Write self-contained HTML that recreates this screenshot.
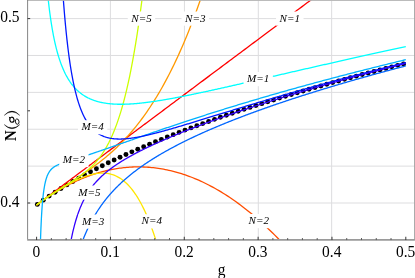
<!DOCTYPE html>
<html><head><meta charset="utf-8"><title>N(g)</title>
<style>
html,body{margin:0;padding:0;background:#fff;}
body{width:415px;height:278px;overflow:hidden;font-family:"Liberation Serif",serif;}
svg{display:block;will-change:transform;}
text{font-family:"Liberation Serif",serif;}
</style></head><body>
<svg width="415" height="278" viewBox="0 0 415 278">
<rect x="0" y="0" width="415" height="278" fill="#fff"/>
<g stroke="#dddddf" stroke-width="1" fill="none">
<line x1="110.40" y1="0.50" x2="110.40" y2="239.65"/>
<line x1="184.45" y1="0.50" x2="184.45" y2="239.65"/>
<line x1="258.30" y1="0.50" x2="258.30" y2="239.65"/>
<line x1="331.65" y1="0.50" x2="331.65" y2="239.65"/>
<line x1="27.60" y1="203.00" x2="414.50" y2="203.00"/>
<line x1="27.60" y1="166.12" x2="414.50" y2="166.12"/>
<line x1="27.60" y1="129.24" x2="414.50" y2="129.24"/>
<line x1="27.60" y1="92.36" x2="414.50" y2="92.36"/>
<line x1="27.60" y1="55.48" x2="414.50" y2="55.48"/>
<line x1="27.60" y1="18.60" x2="414.50" y2="18.60"/>
</g>
<defs><clipPath id="cp"><rect x="27.60" y="0.00" width="386.90" height="239.65"/></clipPath></defs>
<g clip-path="url(#cp)">
<g fill="#000">
<circle cx="37.34" cy="204.40" r="2.45"/>
<circle cx="43.25" cy="200.14" r="2.45"/>
<circle cx="49.15" cy="196.08" r="2.45"/>
<circle cx="55.06" cy="192.21" r="2.45"/>
<circle cx="60.97" cy="188.49" r="2.45"/>
<circle cx="66.87" cy="184.91" r="2.45"/>
<circle cx="72.78" cy="181.46" r="2.45"/>
<circle cx="78.69" cy="178.12" r="2.45"/>
<circle cx="84.60" cy="174.88" r="2.45"/>
<circle cx="90.50" cy="171.73" r="2.45"/>
<circle cx="96.41" cy="168.68" r="2.45"/>
<circle cx="102.32" cy="165.70" r="2.45"/>
<circle cx="108.22" cy="162.79" r="2.45"/>
<circle cx="114.13" cy="159.96" r="2.45"/>
<circle cx="120.04" cy="157.19" r="2.45"/>
<circle cx="125.95" cy="154.48" r="2.45"/>
<circle cx="131.85" cy="151.83" r="2.45"/>
<circle cx="137.76" cy="149.24" r="2.45"/>
<circle cx="143.67" cy="146.69" r="2.45"/>
<circle cx="149.58" cy="144.20" r="2.45"/>
<circle cx="155.48" cy="141.75" r="2.45"/>
<circle cx="161.39" cy="139.34" r="2.45"/>
<circle cx="167.30" cy="136.98" r="2.45"/>
<circle cx="173.20" cy="134.66" r="2.45"/>
<circle cx="179.11" cy="132.37" r="2.45"/>
<circle cx="185.02" cy="130.12" r="2.45"/>
<circle cx="190.93" cy="127.91" r="2.45"/>
<circle cx="196.83" cy="125.73" r="2.45"/>
<circle cx="202.74" cy="123.58" r="2.45"/>
<circle cx="208.65" cy="121.46" r="2.45"/>
<circle cx="214.55" cy="119.37" r="2.45"/>
<circle cx="220.46" cy="117.32" r="2.45"/>
<circle cx="226.37" cy="115.29" r="2.45"/>
<circle cx="232.28" cy="113.28" r="2.45"/>
<circle cx="238.18" cy="111.30" r="2.45"/>
<circle cx="244.09" cy="109.35" r="2.45"/>
<circle cx="250.00" cy="107.42" r="2.45"/>
<circle cx="255.90" cy="105.52" r="2.45"/>
<circle cx="261.81" cy="103.64" r="2.45"/>
<circle cx="267.72" cy="101.78" r="2.45"/>
<circle cx="273.63" cy="99.94" r="2.45"/>
<circle cx="279.53" cy="98.12" r="2.45"/>
<circle cx="285.44" cy="96.32" r="2.45"/>
<circle cx="291.35" cy="94.54" r="2.45"/>
<circle cx="297.26" cy="92.78" r="2.45"/>
<circle cx="303.16" cy="91.04" r="2.45"/>
<circle cx="309.07" cy="89.32" r="2.45"/>
<circle cx="314.98" cy="87.62" r="2.45"/>
<circle cx="320.88" cy="85.93" r="2.45"/>
<circle cx="326.79" cy="84.26" r="2.45"/>
<circle cx="332.70" cy="82.60" r="2.45"/>
<circle cx="338.61" cy="80.96" r="2.45"/>
<circle cx="344.51" cy="79.34" r="2.45"/>
<circle cx="350.42" cy="77.73" r="2.45"/>
<circle cx="356.33" cy="76.14" r="2.45"/>
<circle cx="362.23" cy="74.56" r="2.45"/>
<circle cx="368.14" cy="72.99" r="2.45"/>
<circle cx="374.05" cy="71.44" r="2.45"/>
<circle cx="379.96" cy="69.90" r="2.45"/>
<circle cx="385.86" cy="68.38" r="2.45"/>
<circle cx="391.77" cy="66.87" r="2.45"/>
<circle cx="397.68" cy="65.37" r="2.45"/>
<circle cx="403.58" cy="63.88" r="2.45"/>
</g>
<g fill="none" stroke-width="1.30" stroke-linejoin="round">
<path stroke="#ff0000" d="M36.60 204.95 L36.61 204.95 L36.62 204.93 L36.65 204.91 L36.70 204.88 L36.75 204.84 L36.81 204.79 L36.89 204.73 L36.98 204.67 L37.08 204.59 L37.20 204.51 L37.32 204.41 L37.46 204.31 L37.61 204.20 L37.77 204.08 L37.94 203.95 L38.12 203.81 L38.32 203.66 L38.53 203.51 L38.75 203.34 L38.98 203.17 L39.23 202.99 L39.48 202.80 L39.75 202.60 L40.03 202.39 L40.32 202.17 L40.63 201.94 L40.94 201.71 L41.27 201.46 L41.61 201.21 L41.96 200.95 L42.32 200.67 L42.70 200.39 L43.08 200.11 L43.48 199.81 L43.89 199.50 L44.32 199.18 L44.75 198.86 L45.20 198.53 L45.66 198.18 L46.13 197.83 L46.61 197.47 L47.10 197.10 L47.61 196.72 L48.13 196.34 L48.66 195.94 L49.20 195.54 L49.75 195.12 L50.32 194.70 L50.90 194.27 L51.49 193.83 L52.09 193.38 L52.70 192.92 L53.33 192.45 L53.96 191.98 L54.61 191.49 L55.27 191.00 L55.95 190.49 L56.63 189.98 L57.33 189.46 L58.04 188.93 L58.76 188.39 L59.49 187.85 L60.23 187.29 L60.99 186.73 L61.76 186.15 L62.54 185.57 L63.33 184.98 L64.13 184.38 L64.95 183.77 L65.78 183.15 L66.62 182.52 L67.47 181.88 L68.33 181.24 L69.21 180.59 L70.10 179.92 L70.99 179.25 L71.91 178.57 L72.83 177.88 L73.76 177.18 L74.71 176.47 L75.67 175.76 L76.64 175.03 L77.62 174.30 L78.62 173.56 L79.62 172.80 L80.64 172.04 L81.67 171.27 L82.71 170.49 L83.77 169.71 L84.83 168.91 L85.91 168.10 L87.00 167.29 L88.10 166.47 L89.22 165.64 L90.34 164.79 L91.48 163.94 L92.63 163.09 L93.79 162.22 L94.96 161.34 L96.15 160.46 L97.34 159.56 L98.55 158.66 L99.77 157.75 L101.01 156.83 L102.25 155.90 L103.51 154.96 L104.78 154.01 L106.06 153.05 L107.35 152.09 L108.65 151.11 L109.97 150.13 L111.30 149.14 L112.64 148.14 L113.99 147.13 L115.35 146.11 L116.73 145.08 L118.11 144.04 L119.51 143.00 L120.93 141.94 L122.35 140.88 L123.78 139.81 L125.23 138.73 L126.69 137.64 L128.16 136.54 L129.64 135.43 L131.14 134.31 L132.64 133.19 L134.16 132.05 L135.69 130.91 L137.24 129.76 L138.79 128.59 L140.36 127.42 L141.93 126.24 L143.52 125.06 L145.13 123.86 L146.74 122.65 L148.36 121.44 L150.00 120.22 L151.65 118.98 L153.31 117.74 L154.99 116.49 L156.67 115.23 L158.37 113.96 L160.08 112.69 L161.80 111.40 L163.53 110.11 L165.28 108.80 L167.03 107.49 L168.80 106.17 L170.58 104.84 L172.37 103.50 L174.18 102.15 L175.99 100.79 L177.82 99.43 L179.66 98.05 L181.51 96.67 L183.38 95.28 L185.25 93.88 L187.14 92.46 L189.04 91.05 L190.95 89.62 L192.88 88.18 L194.81 86.73 L196.76 85.28 L198.72 83.81 L200.69 82.34 L202.67 80.86 L204.67 79.37 L206.67 77.87 L208.69 76.36 L210.72 74.84 L212.77 73.32 L214.82 71.78 L216.89 70.24 L218.96 68.69 L221.05 67.13 L223.16 65.55 L225.27 63.97 L227.40 62.39 L229.53 60.79 L231.68 59.18 L233.84 57.57 L236.02 55.94 L238.20 54.31 L240.40 52.67 L242.61 51.02 L244.83 49.36 L247.06 47.69 L249.31 46.01 L251.57 44.33 L253.83 42.63 L256.12 40.93 L258.41 39.21 L260.71 37.49 L263.03 35.76 L265.36 34.02 L267.70 32.27 L270.05 30.52 L272.41 28.75 L274.79 26.97 L277.18 25.19 L279.58 23.40 L281.99 21.59 L284.41 19.78 L286.85 17.96 L289.30 16.13 L291.75 14.30 L294.23 12.45 L296.71 10.60 L299.20 8.73 L301.71 6.86 L304.23 4.98 L306.76 3.08 L309.30 1.18 L311.86 -0.72 L314.42 -2.64 L317.00 -4.57 L319.59 -6.50 L322.20 -8.45 L324.81 -10.40 L327.44 -12.36 L330.07 -14.33 L332.72 -16.31 L335.39 -18.30 L338.06 -20.30 L340.74 -22.31 L343.44 -24.32 L346.15 -26.35 L348.87 -28.38 L351.61 -30.42 L354.35 -32.48 L357.11 -34.54 L359.88 -36.60 L362.66 -38.68"/>
<path stroke="#ff4d00" d="M36.60 204.95 L36.61 204.95 L36.62 204.93 L36.65 204.91 L36.70 204.88 L36.75 204.84 L36.81 204.79 L36.89 204.73 L36.98 204.67 L37.08 204.59 L37.20 204.51 L37.32 204.41 L37.46 204.31 L37.61 204.20 L37.77 204.08 L37.94 203.96 L38.12 203.82 L38.32 203.68 L38.53 203.52 L38.75 203.36 L38.98 203.19 L39.23 203.01 L39.48 202.83 L39.75 202.63 L40.03 202.43 L40.32 202.22 L40.63 202.00 L40.94 201.78 L41.27 201.54 L41.61 201.30 L41.96 201.05 L42.32 200.79 L42.70 200.53 L43.08 200.26 L43.48 199.98 L43.89 199.70 L44.32 199.40 L44.75 199.10 L45.20 198.80 L45.66 198.48 L46.13 198.16 L46.61 197.84 L47.10 197.51 L47.61 197.17 L48.13 196.82 L48.66 196.47 L49.20 196.12 L49.75 195.76 L50.32 195.39 L50.90 195.02 L51.49 194.64 L52.09 194.26 L52.70 193.87 L53.33 193.48 L53.96 193.08 L54.61 192.68 L55.27 192.28 L55.95 191.87 L56.63 191.45 L57.33 191.04 L58.04 190.62 L58.76 190.20 L59.49 189.77 L60.23 189.34 L60.99 188.91 L61.76 188.47 L62.54 188.04 L63.33 187.60 L64.13 187.16 L64.95 186.72 L65.78 186.27 L66.62 185.83 L67.47 185.38 L68.33 184.93 L69.21 184.49 L70.10 184.04 L70.99 183.59 L71.91 183.14 L72.83 182.69 L73.76 182.25 L74.71 181.80 L75.67 181.36 L76.64 180.91 L77.62 180.47 L78.62 180.03 L79.62 179.59 L80.64 179.16 L81.67 178.72 L82.71 178.29 L83.77 177.87 L84.83 177.44 L85.91 177.02 L87.00 176.61 L88.10 176.20 L89.22 175.79 L90.34 175.39 L91.48 174.99 L92.63 174.60 L93.79 174.22 L94.96 173.84 L96.15 173.46 L97.34 173.10 L98.55 172.74 L99.77 172.39 L101.01 172.04 L102.25 171.71 L103.51 171.38 L104.78 171.06 L106.06 170.75 L107.35 170.45 L108.65 170.16 L109.97 169.87 L111.30 169.60 L112.64 169.34 L113.99 169.09 L115.35 168.86 L116.73 168.63 L118.11 168.42 L119.51 168.21 L120.93 168.03 L122.35 167.85 L123.78 167.69 L125.23 167.54 L126.69 167.41 L128.16 167.29 L129.64 167.18 L131.14 167.10 L132.64 167.02 L134.16 166.97 L135.69 166.93 L137.24 166.90 L138.79 166.90 L140.36 166.91 L141.93 166.94 L143.52 166.99 L145.13 167.06 L146.74 167.15 L148.36 167.26 L150.00 167.39 L151.65 167.54 L153.31 167.71 L154.99 167.90 L156.67 168.12 L158.37 168.36 L160.08 168.62 L161.80 168.90 L163.53 169.21 L165.28 169.54 L167.03 169.90 L168.80 170.28 L170.58 170.69 L172.37 171.12 L174.18 171.58 L175.99 172.07 L177.82 172.59 L179.66 173.13 L181.51 173.70 L183.38 174.30 L185.25 174.94 L187.14 175.60 L189.04 176.29 L190.95 177.01 L192.88 177.77 L194.81 178.55 L196.76 179.37 L198.72 180.22 L200.69 181.11 L202.67 182.03 L204.67 182.98 L206.67 183.97 L208.69 185.00 L210.72 186.06 L212.77 187.16 L214.82 188.29 L216.89 189.47 L218.96 190.68 L221.05 191.93 L223.16 193.22 L225.27 194.55 L227.40 195.92 L229.53 197.33 L231.68 198.79 L233.84 200.28 L236.02 201.82 L238.20 203.40 L240.40 205.03 L242.61 206.70 L244.83 208.41 L247.06 210.18 L249.31 211.98 L251.57 213.84 L253.83 215.74 L256.12 217.69 L258.41 219.69 L260.71 221.73 L263.03 223.83 L265.36 225.98 L267.70 228.18 L270.05 230.43 L272.41 232.73 L274.79 235.09 L277.18 237.50 L279.58 239.96 L281.99 242.48 L284.41 245.05 L286.85 247.68 L289.30 250.37 L291.75 253.11 L294.23 255.92 L296.71 258.78 L299.20 261.70 L301.71 264.68 L304.23 267.72 L306.76 270.82 L309.30 273.98 L311.86 277.21 L314.42 280.50 L317.00 283.85 L319.59 287.27 L322.20 290.75 L324.81 294.30 L327.44 297.91 L330.07 301.60 L332.72 305.35 L335.39 309.17 L338.06 313.06 L340.74 317.02"/>
<path stroke="#ff9900" d="M36.60 204.95 L36.61 204.95 L36.62 204.93 L36.65 204.91 L36.70 204.88 L36.75 204.84 L36.81 204.79 L36.89 204.73 L36.98 204.67 L37.08 204.59 L37.20 204.51 L37.32 204.41 L37.46 204.31 L37.61 204.20 L37.77 204.08 L37.94 203.96 L38.12 203.82 L38.32 203.68 L38.53 203.52 L38.75 203.36 L38.98 203.19 L39.23 203.01 L39.48 202.83 L39.75 202.63 L40.03 202.43 L40.32 202.22 L40.63 202.00 L40.94 201.77 L41.27 201.54 L41.61 201.30 L41.96 201.04 L42.32 200.79 L42.70 200.52 L43.08 200.25 L43.48 199.97 L43.89 199.68 L44.32 199.38 L44.75 199.08 L45.20 198.77 L45.66 198.45 L46.13 198.13 L46.61 197.80 L47.10 197.46 L47.61 197.11 L48.13 196.76 L48.66 196.40 L49.20 196.04 L49.75 195.66 L50.32 195.28 L50.90 194.90 L51.49 194.50 L52.09 194.10 L52.70 193.70 L53.33 193.29 L53.96 192.87 L54.61 192.44 L55.27 192.01 L55.95 191.57 L56.63 191.12 L57.33 190.67 L58.04 190.21 L58.76 189.75 L59.49 189.27 L60.23 188.80 L60.99 188.31 L61.76 187.82 L62.54 187.32 L63.33 186.81 L64.13 186.30 L64.95 185.78 L65.78 185.25 L66.62 184.71 L67.47 184.17 L68.33 183.62 L69.21 183.06 L70.10 182.49 L70.99 181.91 L71.91 181.33 L72.83 180.73 L73.76 180.13 L74.71 179.52 L75.67 178.90 L76.64 178.27 L77.62 177.62 L78.62 176.97 L79.62 176.31 L80.64 175.63 L81.67 174.95 L82.71 174.25 L83.77 173.54 L84.83 172.82 L85.91 172.08 L87.00 171.33 L88.10 170.56 L89.22 169.78 L90.34 168.99 L91.48 168.18 L92.63 167.35 L93.79 166.50 L94.96 165.64 L96.15 164.76 L97.34 163.85 L98.55 162.93 L99.77 161.99 L101.01 161.02 L102.25 160.04 L103.51 159.03 L104.78 157.99 L106.06 156.93 L107.35 155.84 L108.65 154.73 L109.97 153.59 L111.30 152.42 L112.64 151.21 L113.99 149.98 L115.35 148.71 L116.73 147.41 L118.11 146.08 L119.51 144.71 L120.93 143.30 L122.35 141.85 L123.78 140.36 L125.23 138.83 L126.69 137.25 L128.16 135.63 L129.64 133.97 L131.14 132.25 L132.64 130.49 L134.16 128.67 L135.69 126.80 L137.24 124.87 L138.79 122.89 L140.36 120.85 L141.93 118.75 L143.52 116.58 L145.13 114.35 L146.74 112.05 L148.36 109.68 L150.00 107.24 L151.65 104.73 L153.31 102.14 L154.99 99.47 L156.67 96.73 L158.37 93.89 L160.08 90.97 L161.80 87.97 L163.53 84.87 L165.28 81.67 L167.03 78.38 L168.80 74.99 L170.58 71.50 L172.37 67.90 L174.18 64.19 L175.99 60.37 L177.82 56.43 L179.66 52.37 L181.51 48.20 L183.38 43.89 L185.25 39.46 L187.14 34.89 L189.04 30.19 L190.95 25.35 L192.88 20.36 L194.81 15.23 L196.76 9.94 L198.72 4.50 L200.69 -1.10 L202.67 -6.87 L204.67 -12.80 L206.67 -18.91 L208.69 -25.19 L210.72 -31.66 L212.77 -38.31"/>
<path stroke="#ffe600" d="M36.60 204.95 L36.61 204.95 L36.62 204.93 L36.65 204.91 L36.70 204.88 L36.75 204.84 L36.81 204.79 L36.89 204.73 L36.98 204.67 L37.08 204.59 L37.20 204.51 L37.32 204.41 L37.46 204.31 L37.61 204.20 L37.77 204.08 L37.94 203.96 L38.12 203.82 L38.32 203.68 L38.53 203.52 L38.75 203.36 L38.98 203.19 L39.23 203.01 L39.48 202.83 L39.75 202.63 L40.03 202.43 L40.32 202.22 L40.63 202.00 L40.94 201.77 L41.27 201.54 L41.61 201.30 L41.96 201.05 L42.32 200.79 L42.70 200.52 L43.08 200.25 L43.48 199.97 L43.89 199.68 L44.32 199.39 L44.75 199.08 L45.20 198.77 L45.66 198.46 L46.13 198.13 L46.61 197.80 L47.10 197.47 L47.61 197.12 L48.13 196.77 L48.66 196.42 L49.20 196.05 L49.75 195.68 L50.32 195.31 L50.90 194.93 L51.49 194.54 L52.09 194.14 L52.70 193.75 L53.33 193.34 L53.96 192.93 L54.61 192.51 L55.27 192.09 L55.95 191.67 L56.63 191.24 L57.33 190.80 L58.04 190.36 L58.76 189.92 L59.49 189.47 L60.23 189.01 L60.99 188.56 L61.76 188.10 L62.54 187.63 L63.33 187.17 L64.13 186.70 L64.95 186.23 L65.78 185.76 L66.62 185.28 L67.47 184.80 L68.33 184.33 L69.21 183.85 L70.10 183.37 L70.99 182.89 L71.91 182.42 L72.83 181.94 L73.76 181.47 L74.71 181.00 L75.67 180.53 L76.64 180.07 L77.62 179.61 L78.62 179.16 L79.62 178.71 L80.64 178.28 L81.67 177.85 L82.71 177.43 L83.77 177.02 L84.83 176.62 L85.91 176.23 L87.00 175.86 L88.10 175.50 L89.22 175.17 L90.34 174.85 L91.48 174.55 L92.63 174.27 L93.79 174.01 L94.96 173.78 L96.15 173.58 L97.34 173.41 L98.55 173.28 L99.77 173.17 L101.01 173.11 L102.25 173.08 L103.51 173.10 L104.78 173.16 L106.06 173.27 L107.35 173.44 L108.65 173.66 L109.97 173.93 L111.30 174.28 L112.64 174.69 L113.99 175.17 L115.35 175.72 L116.73 176.36 L118.11 177.08 L119.51 177.89 L120.93 178.80 L122.35 179.81 L123.78 180.93 L125.23 182.16 L126.69 183.51 L128.16 184.98 L129.64 186.59 L131.14 188.34 L132.64 190.24 L134.16 192.29 L135.69 194.51 L137.24 196.89 L138.79 199.47 L140.36 202.23 L141.93 205.19 L143.52 208.36 L145.13 211.76 L146.74 215.38 L148.36 219.25 L150.00 223.38 L151.65 227.77 L153.31 232.44 L154.99 237.41 L156.67 242.68 L158.37 248.28 L160.08 254.21 L161.80 260.50 L163.53 267.15 L165.28 274.18 L167.03 281.62 L168.80 289.48 L170.58 297.78 L172.37 306.53 L174.18 315.76"/>
<path stroke="#ccff00" d="M36.60 204.95 L36.61 204.95 L36.62 204.93 L36.65 204.91 L36.70 204.88 L36.75 204.84 L36.81 204.79 L36.89 204.73 L36.98 204.67 L37.08 204.59 L37.20 204.51 L37.32 204.41 L37.46 204.31 L37.61 204.20 L37.77 204.08 L37.94 203.96 L38.12 203.82 L38.32 203.68 L38.53 203.52 L38.75 203.36 L38.98 203.19 L39.23 203.01 L39.48 202.83 L39.75 202.63 L40.03 202.43 L40.32 202.22 L40.63 202.00 L40.94 201.77 L41.27 201.54 L41.61 201.30 L41.96 201.05 L42.32 200.79 L42.70 200.52 L43.08 200.25 L43.48 199.97 L43.89 199.68 L44.32 199.39 L44.75 199.08 L45.20 198.77 L45.66 198.46 L46.13 198.13 L46.61 197.80 L47.10 197.47 L47.61 197.12 L48.13 196.77 L48.66 196.41 L49.20 196.05 L49.75 195.68 L50.32 195.30 L50.90 194.92 L51.49 194.53 L52.09 194.13 L52.70 193.73 L53.33 193.32 L53.96 192.90 L54.61 192.48 L55.27 192.06 L55.95 191.62 L56.63 191.19 L57.33 190.74 L58.04 190.29 L58.76 189.83 L59.49 189.37 L60.23 188.90 L60.99 188.42 L61.76 187.94 L62.54 187.45 L63.33 186.95 L64.13 186.45 L64.95 185.94 L65.78 185.42 L66.62 184.90 L67.47 184.36 L68.33 183.82 L69.21 183.27 L70.10 182.71 L70.99 182.13 L71.91 181.55 L72.83 180.96 L73.76 180.35 L74.71 179.73 L75.67 179.09 L76.64 178.44 L77.62 177.78 L78.62 177.09 L79.62 176.38 L80.64 175.66 L81.67 174.90 L82.71 174.13 L83.77 173.32 L84.83 172.49 L85.91 171.62 L87.00 170.72 L88.10 169.77 L89.22 168.79 L90.34 167.75 L91.48 166.67 L92.63 165.53 L93.79 164.34 L94.96 163.07 L96.15 161.74 L97.34 160.33 L98.55 158.84 L99.77 157.26 L101.01 155.57 L102.25 153.79 L103.51 151.89 L104.78 149.86 L106.06 147.70 L107.35 145.40 L108.65 142.94 L109.97 140.30 L111.30 137.49 L112.64 134.48 L113.99 131.26 L115.35 127.81 L116.73 124.11 L118.11 120.15 L119.51 115.91 L120.93 111.36 L122.35 106.48 L123.78 101.25 L125.23 95.64 L126.69 89.63 L128.16 83.19 L129.64 76.29 L131.14 68.89 L132.64 60.96 L134.16 52.46 L135.69 43.36 L137.24 33.62 L138.79 23.18 L140.36 12.02 L141.93 0.07 L143.52 -12.71 L145.13 -26.38"/>
<path stroke="#00ffff" d="M45.05 -37.99 L45.23 -35.30 L45.41 -32.67 L45.60 -30.09 L45.78 -27.57 L45.97 -25.09 L46.16 -22.67 L46.36 -20.29 L46.55 -17.96 L46.75 -15.68 L46.95 -13.44 L47.15 -11.25 L47.35 -9.09 L47.56 -6.98 L47.76 -4.91 L47.97 -2.88 L48.18 -0.89 L48.40 1.06 L48.61 2.98 L48.83 4.86 L49.04 6.71 L49.26 8.52 L49.49 10.30 L49.71 12.05 L49.94 13.76 L50.16 15.45 L50.39 17.10 L50.63 18.72 L50.86 20.32 L51.09 21.88 L51.33 23.42 L51.57 24.93 L51.81 26.41 L52.06 27.87 L52.30 29.30 L52.55 30.71 L52.80 32.09 L53.05 33.45 L53.30 34.78 L53.56 36.09 L53.81 37.38 L54.07 38.65 L54.33 39.89 L54.59 41.11 L54.86 42.32 L55.13 43.50 L55.39 44.66 L55.66 45.80 L55.94 46.92 L56.21 48.03 L56.49 49.11 L56.76 50.18 L57.04 51.22 L57.33 52.26 L57.61 53.27 L57.90 54.26 L58.18 55.24 L58.47 56.21 L58.77 57.15 L59.06 58.09 L59.35 59.00 L59.65 59.90 L59.95 60.79 L60.25 61.66 L60.55 62.51 L60.86 63.36 L61.17 64.18 L61.48 65.00 L61.79 65.80 L62.10 66.59 L62.41 67.36 L62.73 68.12 L63.05 68.87 L63.37 69.61 L63.69 70.33 L64.02 71.04 L64.34 71.74 L64.67 72.43 L65.00 73.11 L65.33 73.78 L65.67 74.43 L66.00 75.08 L66.34 75.71 L66.68 76.33 L67.02 76.94 L67.37 77.55 L67.71 78.14 L68.06 78.72 L68.41 79.29 L68.76 79.85 L69.11 80.41 L69.47 80.95 L69.83 81.48 L70.18 82.01 L70.55 82.52 L70.91 83.03 L71.27 83.53 L71.64 84.02 L72.01 84.50 L72.38 84.98 L72.75 85.44 L73.13 85.90 L73.50 86.35 L73.88 86.79 L74.26 87.22 L74.64 87.65 L75.03 88.07 L75.41 88.48 L75.80 88.88 L76.19 89.28 L76.58 89.67 L76.98 90.05 L77.37 90.42 L77.77 90.79 L78.17 91.15 L78.57 91.51 L78.98 91.86 L79.38 92.20 L79.79 92.53 L80.20 92.86 L80.61 93.19 L81.02 93.50 L81.44 93.81 L81.85 94.12 L82.27 94.42 L82.69 94.71 L83.12 95.00 L83.54 95.28 L83.97 95.55 L84.40 95.83 L84.83 96.09 L85.26 96.35 L85.69 96.60 L86.13 96.85 L86.57 97.10 L87.01 97.34 L87.45 97.57 L87.89 97.80 L88.34 98.02 L88.79 98.24 L89.24 98.45 L89.69 98.66 L90.14 98.87 L90.60 99.07 L91.06 99.26 L91.52 99.45 L91.98 99.64 L92.44 99.82 L92.91 100.00 L93.37 100.17 L93.84 100.34 L94.31 100.51 L94.79 100.67 L95.26 100.82 L95.74 100.97 L96.22 101.12 L96.70 101.27 L97.18 101.41 L97.66 101.54 L98.15 101.68 L98.64 101.80 L99.13 101.93 L99.62 102.05 L100.12 102.17 L100.61 102.28 L101.11 102.39 L101.61 102.50 L102.11 102.60 L102.61 102.70 L103.12 102.80 L103.63 102.89 L104.14 102.98 L104.65 103.07 L105.16 103.15 L105.68 103.23 L106.20 103.31 L106.71 103.38 L107.24 103.45 L107.76 103.52 L108.28 103.58 L108.81 103.64 L109.34 103.70 L109.87 103.75 L110.40 103.81 L110.94 103.86 L111.47 103.90 L112.01 103.94 L112.55 103.99 L113.10 104.02 L113.64 104.06 L114.19 104.09 L114.74 104.12 L115.29 104.15 L115.84 104.17 L116.39 104.19 L116.95 104.21 L117.51 104.23 L118.06 104.24 L118.63 104.25 L119.19 104.26 L119.76 104.27 L120.32 104.27 L120.89 104.27 L121.46 104.27 L122.04 104.27 L122.61 104.26 L123.19 104.25 L123.77 104.24 L124.35 104.23 L124.93 104.22 L125.52 104.20 L126.10 104.18 L126.69 104.16 L127.28 104.14 L127.88 104.11 L128.47 104.08 L129.07 104.05 L129.67 104.02 L130.27 103.99 L130.87 103.95 L131.47 103.91 L132.08 103.87 L132.69 103.83 L133.30 103.79 L133.91 103.74 L134.52 103.69 L135.14 103.64 L135.76 103.59 L136.38 103.54 L137.00 103.48 L137.62 103.42 L138.25 103.36 L138.87 103.30 L139.50 103.24 L140.13 103.18 L140.77 103.11 L141.40 103.04 L142.04 102.97 L142.68 102.90 L143.32 102.83 L143.96 102.75 L144.61 102.68 L145.25 102.60 L145.90 102.52 L146.55 102.44 L147.20 102.35 L147.86 102.27 L148.51 102.18 L149.17 102.10 L149.83 102.01 L150.49 101.92 L151.16 101.82 L151.82 101.73 L152.49 101.63 L153.16 101.54 L153.83 101.44 L154.51 101.34 L155.18 101.24 L155.86 101.14 L156.54 101.03 L157.22 100.93 L157.90 100.82 L158.59 100.71 L159.28 100.60 L159.97 100.49 L160.66 100.38 L161.35 100.27 L162.05 100.15 L162.74 100.04 L163.44 99.92 L164.14 99.80 L164.84 99.68 L165.55 99.56 L166.25 99.44 L166.96 99.32 L167.67 99.19 L168.39 99.06 L169.10 98.94 L169.82 98.81 L170.53 98.68 L171.25 98.55 L171.98 98.42 L172.70 98.28 L173.43 98.15 L174.15 98.02 L174.88 97.88 L175.61 97.74 L176.35 97.60 L177.08 97.46 L177.82 97.32 L178.56 97.18 L179.30 97.04 L180.04 96.89 L180.79 96.75 L181.54 96.60 L182.28 96.46 L183.04 96.31 L183.79 96.16 L184.54 96.01 L185.30 95.86 L186.06 95.71 L186.82 95.55 L187.58 95.40 L188.35 95.25 L189.11 95.09 L189.88 94.93 L190.65 94.77 L191.42 94.62 L192.20 94.46 L192.97 94.30 L193.75 94.13 L194.53 93.97 L195.31 93.81 L196.10 93.65 L196.88 93.48 L197.67 93.31 L198.46 93.15 L199.25 92.98 L200.04 92.81 L200.84 92.64 L201.63 92.47 L202.43 92.30 L203.23 92.13 L204.04 91.96 L204.84 91.78 L205.65 91.61 L206.46 91.44 L207.27 91.26 L208.08 91.08 L208.90 90.91 L209.71 90.73 L210.53 90.55 L211.35 90.37 L212.17 90.19 L213.00 90.01 L213.82 89.83 L214.65 89.64 L215.48 89.46 L216.31 89.28 L217.15 89.09 L217.98 88.91 L218.82 88.72 L219.66 88.53 L220.50 88.35 L221.35 88.16 L222.19 87.97 L223.04 87.78 L223.89 87.59 L224.74 87.40 L225.59 87.21 L226.45 87.02 L227.30 86.82 L228.16 86.63 L229.02 86.43 L229.89 86.24 L230.75 86.04 L231.62 85.85 L232.49 85.65 L233.36 85.45 L234.23 85.26 L235.10 85.06 L235.98 84.86 L236.86 84.66 L237.74 84.46 L238.62 84.26 L239.50 84.06 L240.39 83.86 L241.28 83.65 L242.17 83.45 L243.06 83.25 L243.95 83.04 L244.85 82.84 L245.75 82.63 L246.65 82.43 L247.55 82.22 L248.45 82.01 L249.36 81.80 L250.26 81.60 L251.17 81.39 L252.08 81.18 L253.00 80.97 L253.91 80.76 L254.83 80.55 L255.75 80.34 L256.67 80.13 L257.59 79.91 L258.51 79.70 L259.44 79.49 L260.37 79.27 L261.30 79.06 L262.23 78.84 L263.17 78.63 L264.10 78.41 L265.04 78.20 L265.98 77.98 L266.92 77.76 L267.87 77.55 L268.81 77.33 L269.76 77.11 L270.71 76.89 L271.66 76.67 L272.61 76.45 L273.57 76.23 L274.53 76.01 L275.49 75.79 L276.45 75.57 L277.41 75.35 L278.37 75.13 L279.34 74.90 L280.31 74.68 L281.28 74.46 L282.25 74.23 L283.23 74.01 L284.21 73.78 L285.18 73.56 L286.16 73.33 L287.15 73.11 L288.13 72.88 L289.12 72.65 L290.11 72.43 L291.10 72.20 L292.09 71.97 L293.08 71.74 L294.08 71.51 L295.08 71.29 L296.08 71.06 L297.08 70.83 L298.08 70.60 L299.09 70.37 L300.09 70.14 L301.10 69.90 L302.11 69.67 L303.13 69.44 L304.14 69.21 L305.16 68.98 L306.18 68.74 L307.20 68.51 L308.22 68.28 L309.25 68.04 L310.28 67.81 L311.30 67.57 L312.33 67.34 L313.37 67.10 L314.40 66.87 L315.44 66.63 L316.48 66.40 L317.52 66.16 L318.56 65.92 L319.60 65.69 L320.65 65.45 L321.70 65.21 L322.75 64.97 L323.80 64.73 L324.85 64.50 L325.91 64.26 L326.97 64.02 L328.03 63.78 L329.09 63.54 L330.15 63.30 L331.22 63.06 L332.28 62.82 L333.35 62.58 L334.42 62.34 L335.50 62.09 L336.57 61.85 L337.65 61.61 L338.73 61.37 L339.81 61.13 L340.89 60.88 L341.98 60.64 L343.06 60.40 L344.15 60.15 L345.24 59.91 L346.33 59.66 L347.43 59.42 L348.53 59.18 L349.62 58.93 L350.72 58.69 L351.83 58.44 L352.93 58.19 L354.04 57.95 L355.14 57.70 L356.25 57.46 L357.37 57.21 L358.48 56.96 L359.59 56.72 L360.71 56.47 L361.83 56.22 L362.95 55.97 L364.08 55.73 L365.20 55.48 L366.33 55.23 L367.46 54.98 L368.59 54.73 L369.72 54.48 L370.86 54.23 L371.99 53.98 L373.13 53.73 L374.27 53.48 L375.42 53.23 L376.56 52.98 L377.71 52.73 L378.85 52.48 L380.00 52.23 L381.16 51.98 L382.31 51.73 L383.47 51.48 L384.63 51.22 L385.79 50.97 L386.95 50.72 L388.11 50.47 L389.28 50.22 L390.44 49.96 L391.61 49.71 L392.79 49.46 L393.96 49.20 L395.13 48.95 L396.31 48.70 L397.49 48.44 L398.67 48.19 L399.86 47.93 L401.04 47.68 L402.23 47.42 L403.42 47.17 L404.61 46.91 L405.80 46.66"/>
<path stroke="#00b2ff" d="M39.07 313.62 L39.17 305.64 L39.27 298.16 L39.37 291.14 L39.47 284.55 L39.58 278.35 L39.69 272.52 L39.80 267.04 L39.91 261.87 L40.02 257.00 L40.14 252.41 L40.26 248.07 L40.38 243.98 L40.50 240.11 L40.62 236.46 L40.75 233.00 L40.87 229.73 L41.00 226.63 L41.14 223.70 L41.27 220.92 L41.40 218.28 L41.54 215.78 L41.68 213.41 L41.82 211.16 L41.96 209.02 L42.11 206.99 L42.26 205.06 L42.40 203.23 L42.56 201.48 L42.71 199.82 L42.86 198.24 L43.02 196.74 L43.18 195.31 L43.34 193.94 L43.50 192.64 L43.66 191.41 L43.83 190.23 L44.00 189.10 L44.17 188.03 L44.34 187.00 L44.51 186.02 L44.69 185.09 L44.87 184.20 L45.05 183.34 L45.23 182.53 L45.41 181.75 L45.60 181.01 L45.78 180.29 L45.97 179.61 L46.16 178.96 L46.36 178.34 L46.55 177.74 L46.75 177.17 L46.95 176.62 L47.15 176.10 L47.35 175.59 L47.56 175.11 L47.76 174.65 L47.97 174.20 L48.18 173.77 L48.40 173.37 L48.61 172.97 L48.83 172.59 L49.04 172.23 L49.26 171.88 L49.49 171.54 L49.71 171.22 L49.94 170.91 L50.16 170.61 L50.39 170.32 L50.63 170.04 L50.86 169.77 L51.09 169.51 L51.33 169.26 L51.57 169.02 L51.81 168.78 L52.06 168.55 L52.30 168.33 L52.55 168.12 L52.80 167.92 L53.05 167.72 L53.30 167.52 L53.56 167.33 L53.81 167.15 L54.07 166.97 L54.33 166.80 L54.59 166.63 L54.86 166.47 L55.13 166.31 L55.39 166.15 L55.66 166.00 L55.94 165.85 L56.21 165.70 L56.49 165.56 L56.76 165.42 L57.04 165.28 L57.33 165.15 L57.61 165.01 L57.90 164.88 L58.18 164.76 L58.47 164.63 L58.77 164.51 L59.06 164.38 L59.35 164.26 L59.65 164.14 L59.95 164.03 L60.25 163.91 L60.55 163.79 L60.86 163.68 L61.17 163.56 L61.48 163.45 L61.79 163.34 L62.10 163.23 L62.41 163.12 L62.73 163.01 L63.05 162.90 L63.37 162.79 L63.69 162.68 L64.02 162.57 L64.34 162.46 L64.67 162.36 L65.00 162.25 L65.33 162.14 L65.67 162.03 L66.00 161.93 L66.34 161.82 L66.68 161.71 L67.02 161.60 L67.37 161.49 L67.71 161.38 L68.06 161.28 L68.41 161.17 L68.76 161.06 L69.11 160.95 L69.47 160.84 L69.83 160.73 L70.18 160.62 L70.55 160.50 L70.91 160.39 L71.27 160.28 L71.64 160.17 L72.01 160.05 L72.38 159.94 L72.75 159.82 L73.13 159.71 L73.50 159.59 L73.88 159.47 L74.26 159.36 L74.64 159.24 L75.03 159.12 L75.41 159.00 L75.80 158.88 L76.19 158.76 L76.58 158.63 L76.98 158.51 L77.37 158.39 L77.77 158.26 L78.17 158.14 L78.57 158.01 L78.98 157.88 L79.38 157.76 L79.79 157.63 L80.20 157.50 L80.61 157.37 L81.02 157.24 L81.44 157.10 L81.85 156.97 L82.27 156.84 L82.69 156.70 L83.12 156.57 L83.54 156.43 L83.97 156.29 L84.40 156.15 L84.83 156.01 L85.26 155.87 L85.69 155.73 L86.13 155.59 L86.57 155.45 L87.01 155.30 L87.45 155.16 L87.89 155.01 L88.34 154.87 L88.79 154.72 L89.24 154.57 L89.69 154.42 L90.14 154.27 L90.60 154.12 L91.06 153.97 L91.52 153.81 L91.98 153.66 L92.44 153.51 L92.91 153.35 L93.37 153.19 L93.84 153.04 L94.31 152.88 L94.79 152.72 L95.26 152.56 L95.74 152.40 L96.22 152.24 L96.70 152.07 L97.18 151.91 L97.66 151.75 L98.15 151.58 L98.64 151.41 L99.13 151.25 L99.62 151.08 L100.12 150.91 L100.61 150.74 L101.11 150.57 L101.61 150.40 L102.11 150.23 L102.61 150.05 L103.12 149.88 L103.63 149.70 L104.14 149.53 L104.65 149.35 L105.16 149.18 L105.68 149.00 L106.20 148.82 L106.71 148.64 L107.24 148.46 L107.76 148.28 L108.28 148.09 L108.81 147.91 L109.34 147.73 L109.87 147.54 L110.40 147.36 L110.94 147.17 L111.47 146.98 L112.01 146.80 L112.55 146.61 L113.10 146.42 L113.64 146.23 L114.19 146.04 L114.74 145.85 L115.29 145.66 L115.84 145.46 L116.39 145.27 L116.95 145.07 L117.51 144.88 L118.06 144.68 L118.63 144.49 L119.19 144.29 L119.76 144.09 L120.32 143.89 L120.89 143.69 L121.46 143.49 L122.04 143.29 L122.61 143.09 L123.19 142.89 L123.77 142.69 L124.35 142.48 L124.93 142.28 L125.52 142.07 L126.10 141.87 L126.69 141.66 L127.28 141.45 L127.88 141.25 L128.47 141.04 L129.07 140.83 L129.67 140.62 L130.27 140.41 L130.87 140.20 L131.47 139.99 L132.08 139.77 L132.69 139.56 L133.30 139.35 L133.91 139.13 L134.52 138.92 L135.14 138.71 L135.76 138.49 L136.38 138.27 L137.00 138.06 L137.62 137.84 L138.25 137.62 L138.87 137.40 L139.50 137.18 L140.13 136.96 L140.77 136.74 L141.40 136.52 L142.04 136.30 L142.68 136.08 L143.32 135.85 L143.96 135.63 L144.61 135.41 L145.25 135.18 L145.90 134.96 L146.55 134.73 L147.20 134.51 L147.86 134.28 L148.51 134.05 L149.17 133.83 L149.83 133.60 L150.49 133.37 L151.16 133.14 L151.82 132.91 L152.49 132.68 L153.16 132.45 L153.83 132.22 L154.51 131.99 L155.18 131.76 L155.86 131.52 L156.54 131.29 L157.22 131.06 L157.90 130.82 L158.59 130.59 L159.28 130.35 L159.97 130.12 L160.66 129.88 L161.35 129.65 L162.05 129.41 L162.74 129.17 L163.44 128.93 L164.14 128.70 L164.84 128.46 L165.55 128.22 L166.25 127.98 L166.96 127.74 L167.67 127.50 L168.39 127.26 L169.10 127.02 L169.82 126.78 L170.53 126.53 L171.25 126.29 L171.98 126.05 L172.70 125.81 L173.43 125.56 L174.15 125.32 L174.88 125.07 L175.61 124.83 L176.35 124.58 L177.08 124.34 L177.82 124.09 L178.56 123.85 L179.30 123.60 L180.04 123.35 L180.79 123.10 L181.54 122.86 L182.28 122.61 L183.04 122.36 L183.79 122.11 L184.54 121.86 L185.30 121.61 L186.06 121.36 L186.82 121.11 L187.58 120.86 L188.35 120.61 L189.11 120.36 L189.88 120.11 L190.65 119.85 L191.42 119.60 L192.20 119.35 L192.97 119.10 L193.75 118.84 L194.53 118.59 L195.31 118.33 L196.10 118.08 L196.88 117.82 L197.67 117.57 L198.46 117.31 L199.25 117.06 L200.04 116.80 L200.84 116.55 L201.63 116.29 L202.43 116.03 L203.23 115.77 L204.04 115.52 L204.84 115.26 L205.65 115.00 L206.46 114.74 L207.27 114.48 L208.08 114.22 L208.90 113.97 L209.71 113.71 L210.53 113.45 L211.35 113.19 L212.17 112.93 L213.00 112.66 L213.82 112.40 L214.65 112.14 L215.48 111.88 L216.31 111.62 L217.15 111.36 L217.98 111.09 L218.82 110.83 L219.66 110.57 L220.50 110.31 L221.35 110.04 L222.19 109.78 L223.04 109.51 L223.89 109.25 L224.74 108.99 L225.59 108.72 L226.45 108.46 L227.30 108.19 L228.16 107.93 L229.02 107.66 L229.89 107.39 L230.75 107.13 L231.62 106.86 L232.49 106.60 L233.36 106.33 L234.23 106.06 L235.10 105.79 L235.98 105.53 L236.86 105.26 L237.74 104.99 L238.62 104.72 L239.50 104.46 L240.39 104.19 L241.28 103.92 L242.17 103.65 L243.06 103.38 L243.95 103.11 L244.85 102.84 L245.75 102.57 L246.65 102.30 L247.55 102.03 L248.45 101.76 L249.36 101.49 L250.26 101.22 L251.17 100.95 L252.08 100.68 L253.00 100.41 L253.91 100.13 L254.83 99.86 L255.75 99.59 L256.67 99.32 L257.59 99.05 L258.51 98.77 L259.44 98.50 L260.37 98.23 L261.30 97.95 L262.23 97.68 L263.17 97.41 L264.10 97.13 L265.04 96.86 L265.98 96.59 L266.92 96.31 L267.87 96.04 L268.81 95.76 L269.76 95.49 L270.71 95.22 L271.66 94.94 L272.61 94.67 L273.57 94.39 L274.53 94.11 L275.49 93.84 L276.45 93.56 L277.41 93.29 L278.37 93.01 L279.34 92.74 L280.31 92.46 L281.28 92.18 L282.25 91.91 L283.23 91.63 L284.21 91.35 L285.18 91.08 L286.16 90.80 L287.15 90.52 L288.13 90.24 L289.12 89.97 L290.11 89.69 L291.10 89.41 L292.09 89.13 L293.08 88.85 L294.08 88.58 L295.08 88.30 L296.08 88.02 L297.08 87.74 L298.08 87.46 L299.09 87.18 L300.09 86.90 L301.10 86.62 L302.11 86.35 L303.13 86.07 L304.14 85.79 L305.16 85.51 L306.18 85.23 L307.20 84.95 L308.22 84.67 L309.25 84.39 L310.28 84.11 L311.30 83.83 L312.33 83.55 L313.37 83.27 L314.40 82.98 L315.44 82.70 L316.48 82.42 L317.52 82.14 L318.56 81.86 L319.60 81.58 L320.65 81.30 L321.70 81.02 L322.75 80.74 L323.80 80.45 L324.85 80.17 L325.91 79.89 L326.97 79.61 L328.03 79.33 L329.09 79.04 L330.15 78.76 L331.22 78.48 L332.28 78.20 L333.35 77.91 L334.42 77.63 L335.50 77.35 L336.57 77.07 L337.65 76.78 L338.73 76.50 L339.81 76.22 L340.89 75.93 L341.98 75.65 L343.06 75.37 L344.15 75.08 L345.24 74.80 L346.33 74.52 L347.43 74.23 L348.53 73.95 L349.62 73.67 L350.72 73.38 L351.83 73.10 L352.93 72.82 L354.04 72.53 L355.14 72.25 L356.25 71.96 L357.37 71.68 L358.48 71.39 L359.59 71.11 L360.71 70.82 L361.83 70.54 L362.95 70.26 L364.08 69.97 L365.20 69.69 L366.33 69.40 L367.46 69.12 L368.59 68.83 L369.72 68.55 L370.86 68.26 L371.99 67.98 L373.13 67.69 L374.27 67.41 L375.42 67.12 L376.56 66.83 L377.71 66.55 L378.85 66.26 L380.00 65.98 L381.16 65.69 L382.31 65.41 L383.47 65.12 L384.63 64.83 L385.79 64.55 L386.95 64.26 L388.11 63.98 L389.28 63.69 L390.44 63.40 L391.61 63.12 L392.79 62.83 L393.96 62.55 L395.13 62.26 L396.31 61.97 L397.49 61.69 L398.67 61.40 L399.86 61.11 L401.04 60.83 L402.23 60.54 L403.42 60.25 L404.61 59.97 L405.80 59.68"/>
<path stroke="#0066ff" d="M65.00 315.87 L65.33 313.54 L65.67 311.26 L66.00 309.03 L66.34 306.84 L66.68 304.68 L67.02 302.57 L67.37 300.50 L67.71 298.46 L68.06 296.46 L68.41 294.50 L68.76 292.57 L69.11 290.68 L69.47 288.82 L69.83 286.99 L70.18 285.19 L70.55 283.43 L70.91 281.69 L71.27 279.99 L71.64 278.31 L72.01 276.66 L72.38 275.04 L72.75 273.44 L73.13 271.87 L73.50 270.32 L73.88 268.80 L74.26 267.31 L74.64 265.84 L75.03 264.39 L75.41 262.96 L75.80 261.55 L76.19 260.17 L76.58 258.81 L76.98 257.46 L77.37 256.14 L77.77 254.84 L78.17 253.55 L78.57 252.29 L78.98 251.04 L79.38 249.81 L79.79 248.60 L80.20 247.40 L80.61 246.22 L81.02 245.06 L81.44 243.91 L81.85 242.78 L82.27 241.66 L82.69 240.56 L83.12 239.47 L83.54 238.40 L83.97 237.34 L84.40 236.30 L84.83 235.26 L85.26 234.24 L85.69 233.24 L86.13 232.24 L86.57 231.26 L87.01 230.29 L87.45 229.33 L87.89 228.38 L88.34 227.45 L88.79 226.52 L89.24 225.61 L89.69 224.70 L90.14 223.81 L90.60 222.93 L91.06 222.05 L91.52 221.19 L91.98 220.33 L92.44 219.49 L92.91 218.65 L93.37 217.82 L93.84 217.01 L94.31 216.20 L94.79 215.39 L95.26 214.60 L95.74 213.81 L96.22 213.04 L96.70 212.27 L97.18 211.50 L97.66 210.75 L98.15 210.00 L98.64 209.26 L99.13 208.53 L99.62 207.80 L100.12 207.08 L100.61 206.37 L101.11 205.66 L101.61 204.96 L102.11 204.27 L102.61 203.58 L103.12 202.90 L103.63 202.22 L104.14 201.55 L104.65 200.88 L105.16 200.23 L105.68 199.57 L106.20 198.92 L106.71 198.28 L107.24 197.64 L107.76 197.01 L108.28 196.38 L108.81 195.76 L109.34 195.14 L109.87 194.53 L110.40 193.92 L110.94 193.31 L111.47 192.71 L112.01 192.12 L112.55 191.53 L113.10 190.94 L113.64 190.36 L114.19 189.78 L114.74 189.20 L115.29 188.63 L115.84 188.07 L116.39 187.50 L116.95 186.94 L117.51 186.39 L118.06 185.84 L118.63 185.29 L119.19 184.74 L119.76 184.20 L120.32 183.66 L120.89 183.13 L121.46 182.60 L122.04 182.07 L122.61 181.54 L123.19 181.02 L123.77 180.50 L124.35 179.98 L124.93 179.47 L125.52 178.96 L126.10 178.45 L126.69 177.95 L127.28 177.44 L127.88 176.95 L128.47 176.45 L129.07 175.95 L129.67 175.46 L130.27 174.97 L130.87 174.49 L131.47 174.00 L132.08 173.52 L132.69 173.04 L133.30 172.56 L133.91 172.09 L134.52 171.62 L135.14 171.15 L135.76 170.68 L136.38 170.21 L137.00 169.75 L137.62 169.29 L138.25 168.83 L138.87 168.37 L139.50 167.91 L140.13 167.46 L140.77 167.01 L141.40 166.56 L142.04 166.11 L142.68 165.66 L143.32 165.22 L143.96 164.78 L144.61 164.33 L145.25 163.90 L145.90 163.46 L146.55 163.02 L147.20 162.59 L147.86 162.15 L148.51 161.72 L149.17 161.29 L149.83 160.87 L150.49 160.44 L151.16 160.01 L151.82 159.59 L152.49 159.17 L153.16 158.75 L153.83 158.33 L154.51 157.91 L155.18 157.49 L155.86 157.08 L156.54 156.67 L157.22 156.25 L157.90 155.84 L158.59 155.43 L159.28 155.02 L159.97 154.62 L160.66 154.21 L161.35 153.80 L162.05 153.40 L162.74 153.00 L163.44 152.60 L164.14 152.20 L164.84 151.80 L165.55 151.40 L166.25 151.00 L166.96 150.60 L167.67 150.21 L168.39 149.82 L169.10 149.42 L169.82 149.03 L170.53 148.64 L171.25 148.25 L171.98 147.86 L172.70 147.47 L173.43 147.09 L174.15 146.70 L174.88 146.31 L175.61 145.93 L176.35 145.55 L177.08 145.16 L177.82 144.78 L178.56 144.40 L179.30 144.02 L180.04 143.64 L180.79 143.26 L181.54 142.88 L182.28 142.51 L183.04 142.13 L183.79 141.76 L184.54 141.38 L185.30 141.01 L186.06 140.64 L186.82 140.26 L187.58 139.89 L188.35 139.52 L189.11 139.15 L189.88 138.78 L190.65 138.41 L191.42 138.04 L192.20 137.68 L192.97 137.31 L193.75 136.94 L194.53 136.58 L195.31 136.21 L196.10 135.85 L196.88 135.49 L197.67 135.12 L198.46 134.76 L199.25 134.40 L200.04 134.04 L200.84 133.68 L201.63 133.32 L202.43 132.96 L203.23 132.60 L204.04 132.24 L204.84 131.88 L205.65 131.52 L206.46 131.17 L207.27 130.81 L208.08 130.46 L208.90 130.10 L209.71 129.75 L210.53 129.39 L211.35 129.04 L212.17 128.68 L213.00 128.33 L213.82 127.98 L214.65 127.63 L215.48 127.28 L216.31 126.93 L217.15 126.58 L217.98 126.23 L218.82 125.88 L219.66 125.53 L220.50 125.18 L221.35 124.83 L222.19 124.48 L223.04 124.13 L223.89 123.79 L224.74 123.44 L225.59 123.09 L226.45 122.75 L227.30 122.40 L228.16 122.06 L229.02 121.71 L229.89 121.37 L230.75 121.03 L231.62 120.68 L232.49 120.34 L233.36 120.00 L234.23 119.65 L235.10 119.31 L235.98 118.97 L236.86 118.63 L237.74 118.29 L238.62 117.95 L239.50 117.61 L240.39 117.27 L241.28 116.93 L242.17 116.59 L243.06 116.25 L243.95 115.91 L244.85 115.57 L245.75 115.23 L246.65 114.90 L247.55 114.56 L248.45 114.22 L249.36 113.89 L250.26 113.55 L251.17 113.21 L252.08 112.88 L253.00 112.54 L253.91 112.21 L254.83 111.87 L255.75 111.54 L256.67 111.20 L257.59 110.87 L258.51 110.53 L259.44 110.20 L260.37 109.87 L261.30 109.53 L262.23 109.20 L263.17 108.87 L264.10 108.53 L265.04 108.20 L265.98 107.87 L266.92 107.54 L267.87 107.21 L268.81 106.88 L269.76 106.54 L270.71 106.21 L271.66 105.88 L272.61 105.55 L273.57 105.22 L274.53 104.89 L275.49 104.56 L276.45 104.23 L277.41 103.90 L278.37 103.58 L279.34 103.25 L280.31 102.92 L281.28 102.59 L282.25 102.26 L283.23 101.93 L284.21 101.61 L285.18 101.28 L286.16 100.95 L287.15 100.63 L288.13 100.30 L289.12 99.97 L290.11 99.65 L291.10 99.32 L292.09 98.99 L293.08 98.67 L294.08 98.34 L295.08 98.02 L296.08 97.69 L297.08 97.37 L298.08 97.04 L299.09 96.72 L300.09 96.39 L301.10 96.07 L302.11 95.74 L303.13 95.42 L304.14 95.09 L305.16 94.77 L306.18 94.45 L307.20 94.12 L308.22 93.80 L309.25 93.48 L310.28 93.16 L311.30 92.83 L312.33 92.51 L313.37 92.19 L314.40 91.87 L315.44 91.54 L316.48 91.22 L317.52 90.90 L318.56 90.58 L319.60 90.26 L320.65 89.94 L321.70 89.61 L322.75 89.29 L323.80 88.97 L324.85 88.65 L325.91 88.33 L326.97 88.01 L328.03 87.69 L329.09 87.37 L330.15 87.05 L331.22 86.73 L332.28 86.41 L333.35 86.09 L334.42 85.77 L335.50 85.45 L336.57 85.13 L337.65 84.82 L338.73 84.50 L339.81 84.18 L340.89 83.86 L341.98 83.54 L343.06 83.22 L344.15 82.91 L345.24 82.59 L346.33 82.27 L347.43 81.95 L348.53 81.63 L349.62 81.32 L350.72 81.00 L351.83 80.68 L352.93 80.36 L354.04 80.05 L355.14 79.73 L356.25 79.41 L357.37 79.10 L358.48 78.78 L359.59 78.46 L360.71 78.15 L361.83 77.83 L362.95 77.52 L364.08 77.20 L365.20 76.88 L366.33 76.57 L367.46 76.25 L368.59 75.94 L369.72 75.62 L370.86 75.31 L371.99 74.99 L373.13 74.68 L374.27 74.36 L375.42 74.05 L376.56 73.73 L377.71 73.42 L378.85 73.10 L380.00 72.79 L381.16 72.48 L382.31 72.16 L383.47 71.85 L384.63 71.53 L385.79 71.22 L386.95 70.91 L388.11 70.59 L389.28 70.28 L390.44 69.97 L391.61 69.65 L392.79 69.34 L393.96 69.03 L395.13 68.71 L396.31 68.40 L397.49 68.09 L398.67 67.78 L399.86 67.46 L401.04 67.15 L402.23 66.84 L403.42 66.53 L404.61 66.22 L405.80 65.90"/>
<path stroke="#0019ff" d="M60.86 -39.22 L61.17 -33.76 L61.48 -28.48 L61.79 -23.36 L62.10 -18.40 L62.41 -13.60 L62.73 -8.94 L63.05 -4.43 L63.37 -0.05 L63.69 4.19 L64.02 8.30 L64.34 12.28 L64.67 16.15 L65.00 19.90 L65.33 23.53 L65.67 27.06 L66.00 30.48 L66.34 33.80 L66.68 37.02 L67.02 40.15 L67.37 43.18 L67.71 46.13 L68.06 48.99 L68.41 51.76 L68.76 54.46 L69.11 57.07 L69.47 59.61 L69.83 62.08 L70.18 64.47 L70.55 66.80 L70.91 69.06 L71.27 71.25 L71.64 73.38 L72.01 75.45 L72.38 77.46 L72.75 79.42 L73.13 81.32 L73.50 83.16 L73.88 84.95 L74.26 86.69 L74.64 88.38 L75.03 90.03 L75.41 91.62 L75.80 93.17 L76.19 94.68 L76.58 96.15 L76.98 97.57 L77.37 98.95 L77.77 100.30 L78.17 101.60 L78.57 102.87 L78.98 104.10 L79.38 105.30 L79.79 106.47 L80.20 107.60 L80.61 108.70 L81.02 109.76 L81.44 110.80 L81.85 111.81 L82.27 112.79 L82.69 113.74 L83.12 114.66 L83.54 115.55 L83.97 116.43 L84.40 117.27 L84.83 118.09 L85.26 118.89 L85.69 119.66 L86.13 120.41 L86.57 121.14 L87.01 121.85 L87.45 122.53 L87.89 123.20 L88.34 123.84 L88.79 124.47 L89.24 125.07 L89.69 125.66 L90.14 126.23 L90.60 126.79 L91.06 127.32 L91.52 127.84 L91.98 128.34 L92.44 128.83 L92.91 129.30 L93.37 129.75 L93.84 130.19 L94.31 130.62 L94.79 131.03 L95.26 131.43 L95.74 131.81 L96.22 132.18 L96.70 132.54 L97.18 132.89 L97.66 133.22 L98.15 133.54 L98.64 133.85 L99.13 134.15 L99.62 134.44 L100.12 134.71 L100.61 134.98 L101.11 135.23 L101.61 135.48 L102.11 135.71 L102.61 135.94 L103.12 136.15 L103.63 136.36 L104.14 136.56 L104.65 136.74 L105.16 136.92 L105.68 137.09 L106.20 137.25 L106.71 137.41 L107.24 137.55 L107.76 137.69 L108.28 137.82 L108.81 137.95 L109.34 138.06 L109.87 138.17 L110.40 138.27 L110.94 138.36 L111.47 138.45 L112.01 138.53 L112.55 138.61 L113.10 138.68 L113.64 138.74 L114.19 138.79 L114.74 138.84 L115.29 138.89 L115.84 138.92 L116.39 138.96 L116.95 138.98 L117.51 139.00 L118.06 139.02 L118.63 139.03 L119.19 139.04 L119.76 139.04 L120.32 139.03 L120.89 139.03 L121.46 139.01 L122.04 138.99 L122.61 138.97 L123.19 138.95 L123.77 138.91 L124.35 138.88 L124.93 138.84 L125.52 138.79 L126.10 138.75 L126.69 138.69 L127.28 138.64 L127.88 138.58 L128.47 138.52 L129.07 138.45 L129.67 138.38 L130.27 138.30 L130.87 138.23 L131.47 138.14 L132.08 138.06 L132.69 137.97 L133.30 137.88 L133.91 137.79 L134.52 137.69 L135.14 137.59 L135.76 137.49 L136.38 137.38 L137.00 137.27 L137.62 137.16 L138.25 137.05 L138.87 136.93 L139.50 136.81 L140.13 136.69 L140.77 136.56 L141.40 136.43 L142.04 136.30 L142.68 136.17 L143.32 136.03 L143.96 135.90 L144.61 135.76 L145.25 135.61 L145.90 135.47 L146.55 135.32 L147.20 135.17 L147.86 135.02 L148.51 134.87 L149.17 134.71 L149.83 134.56 L150.49 134.40 L151.16 134.23 L151.82 134.07 L152.49 133.91 L153.16 133.74 L153.83 133.57 L154.51 133.40 L155.18 133.23 L155.86 133.05 L156.54 132.88 L157.22 132.70 L157.90 132.52 L158.59 132.34 L159.28 132.15 L159.97 131.97 L160.66 131.78 L161.35 131.60 L162.05 131.41 L162.74 131.22 L163.44 131.02 L164.14 130.83 L164.84 130.64 L165.55 130.44 L166.25 130.24 L166.96 130.04 L167.67 129.84 L168.39 129.64 L169.10 129.44 L169.82 129.23 L170.53 129.03 L171.25 128.82 L171.98 128.61 L172.70 128.40 L173.43 128.19 L174.15 127.98 L174.88 127.77 L175.61 127.55 L176.35 127.34 L177.08 127.12 L177.82 126.91 L178.56 126.69 L179.30 126.47 L180.04 126.25 L180.79 126.03 L181.54 125.80 L182.28 125.58 L183.04 125.36 L183.79 125.13 L184.54 124.90 L185.30 124.68 L186.06 124.45 L186.82 124.22 L187.58 123.99 L188.35 123.76 L189.11 123.53 L189.88 123.29 L190.65 123.06 L191.42 122.83 L192.20 122.59 L192.97 122.35 L193.75 122.12 L194.53 121.88 L195.31 121.64 L196.10 121.40 L196.88 121.16 L197.67 120.92 L198.46 120.68 L199.25 120.44 L200.04 120.20 L200.84 119.95 L201.63 119.71 L202.43 119.46 L203.23 119.22 L204.04 118.97 L204.84 118.72 L205.65 118.48 L206.46 118.23 L207.27 117.98 L208.08 117.73 L208.90 117.48 L209.71 117.23 L210.53 116.98 L211.35 116.73 L212.17 116.47 L213.00 116.22 L213.82 115.97 L214.65 115.71 L215.48 115.46 L216.31 115.20 L217.15 114.95 L217.98 114.69 L218.82 114.43 L219.66 114.18 L220.50 113.92 L221.35 113.66 L222.19 113.40 L223.04 113.14 L223.89 112.88 L224.74 112.62 L225.59 112.36 L226.45 112.10 L227.30 111.84 L228.16 111.57 L229.02 111.31 L229.89 111.05 L230.75 110.79 L231.62 110.52 L232.49 110.26 L233.36 109.99 L234.23 109.73 L235.10 109.46 L235.98 109.20 L236.86 108.93 L237.74 108.66 L238.62 108.39 L239.50 108.13 L240.39 107.86 L241.28 107.59 L242.17 107.32 L243.06 107.05 L243.95 106.78 L244.85 106.51 L245.75 106.24 L246.65 105.97 L247.55 105.70 L248.45 105.43 L249.36 105.16 L250.26 104.89 L251.17 104.62 L252.08 104.34 L253.00 104.07 L253.91 103.80 L254.83 103.52 L255.75 103.25 L256.67 102.98 L257.59 102.70 L258.51 102.43 L259.44 102.15 L260.37 101.88 L261.30 101.60 L262.23 101.33 L263.17 101.05 L264.10 100.77 L265.04 100.50 L265.98 100.22 L266.92 99.94 L267.87 99.67 L268.81 99.39 L269.76 99.11 L270.71 98.83 L271.66 98.55 L272.61 98.28 L273.57 98.00 L274.53 97.72 L275.49 97.44 L276.45 97.16 L277.41 96.88 L278.37 96.60 L279.34 96.32 L280.31 96.04 L281.28 95.76 L282.25 95.48 L283.23 95.20 L284.21 94.92 L285.18 94.63 L286.16 94.35 L287.15 94.07 L288.13 93.79 L289.12 93.51 L290.11 93.22 L291.10 92.94 L292.09 92.66 L293.08 92.38 L294.08 92.09 L295.08 91.81 L296.08 91.53 L297.08 91.24 L298.08 90.96 L299.09 90.67 L300.09 90.39 L301.10 90.11 L302.11 89.82 L303.13 89.54 L304.14 89.25 L305.16 88.97 L306.18 88.68 L307.20 88.40 L308.22 88.11 L309.25 87.82 L310.28 87.54 L311.30 87.25 L312.33 86.97 L313.37 86.68 L314.40 86.39 L315.44 86.11 L316.48 85.82 L317.52 85.53 L318.56 85.25 L319.60 84.96 L320.65 84.67 L321.70 84.39 L322.75 84.10 L323.80 83.81 L324.85 83.52 L325.91 83.24 L326.97 82.95 L328.03 82.66 L329.09 82.37 L330.15 82.08 L331.22 81.80 L332.28 81.51 L333.35 81.22 L334.42 80.93 L335.50 80.64 L336.57 80.35 L337.65 80.06 L338.73 79.77 L339.81 79.48 L340.89 79.20 L341.98 78.91 L343.06 78.62 L344.15 78.33 L345.24 78.04 L346.33 77.75 L347.43 77.46 L348.53 77.17 L349.62 76.88 L350.72 76.59 L351.83 76.30 L352.93 76.01 L354.04 75.72 L355.14 75.43 L356.25 75.13 L357.37 74.84 L358.48 74.55 L359.59 74.26 L360.71 73.97 L361.83 73.68 L362.95 73.39 L364.08 73.10 L365.20 72.81 L366.33 72.52 L367.46 72.22 L368.59 71.93 L369.72 71.64 L370.86 71.35 L371.99 71.06 L373.13 70.77 L374.27 70.48 L375.42 70.18 L376.56 69.89 L377.71 69.60 L378.85 69.31 L380.00 69.02 L381.16 68.72 L382.31 68.43 L383.47 68.14 L384.63 67.85 L385.79 67.55 L386.95 67.26 L388.11 66.97 L389.28 66.68 L390.44 66.38 L391.61 66.09 L392.79 65.80 L393.96 65.51 L395.13 65.21 L396.31 64.92 L397.49 64.63 L398.67 64.34 L399.86 64.04 L401.04 63.75 L402.23 63.46 L403.42 63.16 L404.61 62.87 L405.80 62.58"/>
<path stroke="#3300ff" d="M62.10 316.76 L62.41 312.44 L62.73 308.27 L63.05 304.26 L63.37 300.38 L63.69 296.63 L64.02 293.02 L64.34 289.52 L64.67 286.15 L65.00 282.89 L65.33 279.73 L65.67 276.69 L66.00 273.74 L66.34 270.88 L66.68 268.12 L67.02 265.45 L67.37 262.86 L67.71 260.35 L68.06 257.92 L68.41 255.57 L68.76 253.29 L69.11 251.08 L69.47 248.93 L69.83 246.85 L70.18 244.83 L70.55 242.87 L70.91 240.96 L71.27 239.11 L71.64 237.32 L72.01 235.57 L72.38 233.87 L72.75 232.22 L73.13 230.62 L73.50 229.06 L73.88 227.54 L74.26 226.06 L74.64 224.62 L75.03 223.22 L75.41 221.85 L75.80 220.52 L76.19 219.23 L76.58 217.96 L76.98 216.73 L77.37 215.52 L77.77 214.35 L78.17 213.20 L78.57 212.08 L78.98 210.99 L79.38 209.92 L79.79 208.88 L80.20 207.86 L80.61 206.86 L81.02 205.89 L81.44 204.94 L81.85 204.00 L82.27 203.09 L82.69 202.20 L83.12 201.32 L83.54 200.46 L83.97 199.62 L84.40 198.80 L84.83 197.99 L85.26 197.20 L85.69 196.42 L86.13 195.66 L86.57 194.91 L87.01 194.18 L87.45 193.45 L87.89 192.75 L88.34 192.05 L88.79 191.36 L89.24 190.69 L89.69 190.03 L90.14 189.38 L90.60 188.74 L91.06 188.11 L91.52 187.49 L91.98 186.88 L92.44 186.28 L92.91 185.69 L93.37 185.10 L93.84 184.53 L94.31 183.96 L94.79 183.40 L95.26 182.85 L95.74 182.31 L96.22 181.77 L96.70 181.24 L97.18 180.72 L97.66 180.20 L98.15 179.69 L98.64 179.19 L99.13 178.69 L99.62 178.20 L100.12 177.71 L100.61 177.23 L101.11 176.76 L101.61 176.29 L102.11 175.82 L102.61 175.36 L103.12 174.90 L103.63 174.45 L104.14 174.01 L104.65 173.56 L105.16 173.12 L105.68 172.69 L106.20 172.26 L106.71 171.83 L107.24 171.41 L107.76 170.99 L108.28 170.57 L108.81 170.16 L109.34 169.75 L109.87 169.35 L110.40 168.94 L110.94 168.54 L111.47 168.15 L112.01 167.75 L112.55 167.36 L113.10 166.97 L113.64 166.59 L114.19 166.20 L114.74 165.82 L115.29 165.44 L115.84 165.07 L116.39 164.69 L116.95 164.32 L117.51 163.95 L118.06 163.58 L118.63 163.22 L119.19 162.85 L119.76 162.49 L120.32 162.13 L120.89 161.77 L121.46 161.42 L122.04 161.06 L122.61 160.71 L123.19 160.36 L123.77 160.01 L124.35 159.66 L124.93 159.31 L125.52 158.96 L126.10 158.62 L126.69 158.28 L127.28 157.94 L127.88 157.60 L128.47 157.26 L129.07 156.92 L129.67 156.58 L130.27 156.25 L130.87 155.91 L131.47 155.58 L132.08 155.25 L132.69 154.91 L133.30 154.58 L133.91 154.25 L134.52 153.93 L135.14 153.60 L135.76 153.27 L136.38 152.95 L137.00 152.62 L137.62 152.30 L138.25 151.97 L138.87 151.65 L139.50 151.33 L140.13 151.01 L140.77 150.69 L141.40 150.37 L142.04 150.05 L142.68 149.73 L143.32 149.41 L143.96 149.09 L144.61 148.78 L145.25 148.46 L145.90 148.15 L146.55 147.83 L147.20 147.52 L147.86 147.20 L148.51 146.89 L149.17 146.58 L149.83 146.26 L150.49 145.95 L151.16 145.64 L151.82 145.33 L152.49 145.02 L153.16 144.71 L153.83 144.40 L154.51 144.09 L155.18 143.78 L155.86 143.47 L156.54 143.16 L157.22 142.85 L157.90 142.55 L158.59 142.24 L159.28 141.93 L159.97 141.62 L160.66 141.32 L161.35 141.01 L162.05 140.71 L162.74 140.40 L163.44 140.09 L164.14 139.79 L164.84 139.48 L165.55 139.18 L166.25 138.87 L166.96 138.57 L167.67 138.27 L168.39 137.96 L169.10 137.66 L169.82 137.36 L170.53 137.05 L171.25 136.75 L171.98 136.45 L172.70 136.14 L173.43 135.84 L174.15 135.54 L174.88 135.24 L175.61 134.93 L176.35 134.63 L177.08 134.33 L177.82 134.03 L178.56 133.73 L179.30 133.43 L180.04 133.12 L180.79 132.82 L181.54 132.52 L182.28 132.22 L183.04 131.92 L183.79 131.62 L184.54 131.32 L185.30 131.02 L186.06 130.72 L186.82 130.42 L187.58 130.12 L188.35 129.82 L189.11 129.52 L189.88 129.22 L190.65 128.92 L191.42 128.62 L192.20 128.32 L192.97 128.02 L193.75 127.72 L194.53 127.42 L195.31 127.12 L196.10 126.82 L196.88 126.52 L197.67 126.22 L198.46 125.92 L199.25 125.62 L200.04 125.32 L200.84 125.02 L201.63 124.72 L202.43 124.42 L203.23 124.13 L204.04 123.83 L204.84 123.53 L205.65 123.23 L206.46 122.93 L207.27 122.63 L208.08 122.33 L208.90 122.03 L209.71 121.73 L210.53 121.43 L211.35 121.14 L212.17 120.84 L213.00 120.54 L213.82 120.24 L214.65 119.94 L215.48 119.64 L216.31 119.34 L217.15 119.04 L217.98 118.75 L218.82 118.45 L219.66 118.15 L220.50 117.85 L221.35 117.55 L222.19 117.25 L223.04 116.95 L223.89 116.65 L224.74 116.36 L225.59 116.06 L226.45 115.76 L227.30 115.46 L228.16 115.16 L229.02 114.86 L229.89 114.56 L230.75 114.27 L231.62 113.97 L232.49 113.67 L233.36 113.37 L234.23 113.07 L235.10 112.77 L235.98 112.47 L236.86 112.17 L237.74 111.88 L238.62 111.58 L239.50 111.28 L240.39 110.98 L241.28 110.68 L242.17 110.38 L243.06 110.08 L243.95 109.79 L244.85 109.49 L245.75 109.19 L246.65 108.89 L247.55 108.59 L248.45 108.29 L249.36 107.99 L250.26 107.69 L251.17 107.39 L252.08 107.10 L253.00 106.80 L253.91 106.50 L254.83 106.20 L255.75 105.90 L256.67 105.60 L257.59 105.30 L258.51 105.00 L259.44 104.71 L260.37 104.41 L261.30 104.11 L262.23 103.81 L263.17 103.51 L264.10 103.21 L265.04 102.91 L265.98 102.61 L266.92 102.31 L267.87 102.01 L268.81 101.72 L269.76 101.42 L270.71 101.12 L271.66 100.82 L272.61 100.52 L273.57 100.22 L274.53 99.92 L275.49 99.62 L276.45 99.32 L277.41 99.02 L278.37 98.72 L279.34 98.43 L280.31 98.13 L281.28 97.83 L282.25 97.53 L283.23 97.23 L284.21 96.93 L285.18 96.63 L286.16 96.33 L287.15 96.03 L288.13 95.73 L289.12 95.43 L290.11 95.13 L291.10 94.83 L292.09 94.54 L293.08 94.24 L294.08 93.94 L295.08 93.64 L296.08 93.34 L297.08 93.04 L298.08 92.74 L299.09 92.44 L300.09 92.14 L301.10 91.84 L302.11 91.54 L303.13 91.24 L304.14 90.94 L305.16 90.64 L306.18 90.34 L307.20 90.04 L308.22 89.75 L309.25 89.45 L310.28 89.15 L311.30 88.85 L312.33 88.55 L313.37 88.25 L314.40 87.95 L315.44 87.65 L316.48 87.35 L317.52 87.05 L318.56 86.75 L319.60 86.45 L320.65 86.15 L321.70 85.85 L322.75 85.55 L323.80 85.25 L324.85 84.95 L325.91 84.65 L326.97 84.36 L328.03 84.06 L329.09 83.76 L330.15 83.46 L331.22 83.16 L332.28 82.86 L333.35 82.56 L334.42 82.26 L335.50 81.96 L336.57 81.66 L337.65 81.36 L338.73 81.06 L339.81 80.76 L340.89 80.46 L341.98 80.16 L343.06 79.86 L344.15 79.56 L345.24 79.26 L346.33 78.96 L347.43 78.66 L348.53 78.36 L349.62 78.07 L350.72 77.77 L351.83 77.47 L352.93 77.17 L354.04 76.87 L355.14 76.57 L356.25 76.27 L357.37 75.97 L358.48 75.67 L359.59 75.37 L360.71 75.07 L361.83 74.77 L362.95 74.47 L364.08 74.17 L365.20 73.87 L366.33 73.57 L367.46 73.27 L368.59 72.97 L369.72 72.67 L370.86 72.38 L371.99 72.08 L373.13 71.78 L374.27 71.48 L375.42 71.18 L376.56 70.88 L377.71 70.58 L378.85 70.28 L380.00 69.98 L381.16 69.68 L382.31 69.38 L383.47 69.08 L384.63 68.78 L385.79 68.48 L386.95 68.18 L388.11 67.89 L389.28 67.59 L390.44 67.29 L391.61 66.99 L392.79 66.69 L393.96 66.39 L395.13 66.09 L396.31 65.79 L397.49 65.49 L398.67 65.19 L399.86 64.89 L401.04 64.59 L402.23 64.29 L403.42 64.00 L404.61 63.70 L405.80 63.40"/>
</g>
</g>
<rect x="127.76" y="11.50" width="27.47" height="14.2" fill="#fff"/>
<text transform="translate(141.50,21.50) scale(0.975,1)" font-size="11.4" font-style="italic" text-anchor="middle" fill="#000">N=5</text>
<rect x="181.56" y="11.50" width="27.47" height="14.2" fill="#fff"/>
<text transform="translate(195.30,21.50) scale(0.975,1)" font-size="11.4" font-style="italic" text-anchor="middle" fill="#000">N=3</text>
<rect x="276.06" y="11.50" width="27.47" height="14.2" fill="#fff"/>
<text transform="translate(289.80,21.50) scale(0.975,1)" font-size="11.4" font-style="italic" text-anchor="middle" fill="#000">N=1</text>
<rect x="243.54" y="72.00" width="29.32" height="14.2" fill="#fff"/>
<text transform="translate(258.20,82.00) scale(0.975,1)" font-size="11.4" font-style="italic" text-anchor="middle" fill="#000">M=1</text>
<rect x="77.99" y="120.20" width="29.32" height="14.2" fill="#fff"/>
<text transform="translate(92.65,130.20) scale(0.975,1)" font-size="11.4" font-style="italic" text-anchor="middle" fill="#000">M=4</text>
<rect x="59.24" y="153.00" width="29.32" height="14.2" fill="#fff"/>
<text transform="translate(73.90,163.00) scale(0.975,1)" font-size="11.4" font-style="italic" text-anchor="middle" fill="#000">M=2</text>
<rect x="74.74" y="185.50" width="29.32" height="14.2" fill="#fff"/>
<text transform="translate(89.40,195.50) scale(0.975,1)" font-size="11.4" font-style="italic" text-anchor="middle" fill="#000">M=5</text>
<rect x="78.39" y="214.50" width="29.32" height="14.2" fill="#fff"/>
<text transform="translate(93.05,224.50) scale(0.975,1)" font-size="11.4" font-style="italic" text-anchor="middle" fill="#000">M=3</text>
<rect x="137.96" y="214.25" width="27.47" height="14.2" fill="#fff"/>
<text transform="translate(151.70,224.25) scale(0.975,1)" font-size="11.4" font-style="italic" text-anchor="middle" fill="#000">N=4</text>
<rect x="245.06" y="214.00" width="27.47" height="14.2" fill="#fff"/>
<text transform="translate(258.80,224.00) scale(0.975,1)" font-size="11.4" font-style="italic" text-anchor="middle" fill="#000">N=2</text>
<rect x="27.60" y="0" width="386.90" height="0.9" fill="#b4b4b4"/>
<g stroke="#666" stroke-width="0.8" fill="none">
<line x1="27.60" y1="0.00" x2="27.60" y2="239.65"/>
<line x1="27.20" y1="239.85" x2="414.90" y2="239.85" stroke="#9a9a9a" stroke-width="1.7"/>
<line x1="414.50" y1="0.00" x2="414.50" y2="239.65" stroke="#959595"/>
</g>
<g stroke="#383838" stroke-width="1" fill="none">
<line x1="36.60" y1="240.05" x2="36.60" y2="236.75"/>
<line x1="51.37" y1="240.05" x2="51.37" y2="238.05" stroke="#5a5a5a"/>
<line x1="66.14" y1="240.05" x2="66.14" y2="238.05" stroke="#5a5a5a"/>
<line x1="80.90" y1="240.05" x2="80.90" y2="238.05" stroke="#5a5a5a"/>
<line x1="95.67" y1="240.05" x2="95.67" y2="238.05" stroke="#5a5a5a"/>
<line x1="110.44" y1="240.05" x2="110.44" y2="236.75"/>
<line x1="125.21" y1="240.05" x2="125.21" y2="238.05" stroke="#5a5a5a"/>
<line x1="139.98" y1="240.05" x2="139.98" y2="238.05" stroke="#5a5a5a"/>
<line x1="154.74" y1="240.05" x2="154.74" y2="238.05" stroke="#5a5a5a"/>
<line x1="169.51" y1="240.05" x2="169.51" y2="238.05" stroke="#5a5a5a"/>
<line x1="184.28" y1="240.05" x2="184.28" y2="236.75"/>
<line x1="199.05" y1="240.05" x2="199.05" y2="238.05" stroke="#5a5a5a"/>
<line x1="213.82" y1="240.05" x2="213.82" y2="238.05" stroke="#5a5a5a"/>
<line x1="228.58" y1="240.05" x2="228.58" y2="238.05" stroke="#5a5a5a"/>
<line x1="243.35" y1="240.05" x2="243.35" y2="238.05" stroke="#5a5a5a"/>
<line x1="258.12" y1="240.05" x2="258.12" y2="236.75"/>
<line x1="272.89" y1="240.05" x2="272.89" y2="238.05" stroke="#5a5a5a"/>
<line x1="287.66" y1="240.05" x2="287.66" y2="238.05" stroke="#5a5a5a"/>
<line x1="302.42" y1="240.05" x2="302.42" y2="238.05" stroke="#5a5a5a"/>
<line x1="317.19" y1="240.05" x2="317.19" y2="238.05" stroke="#5a5a5a"/>
<line x1="331.96" y1="240.05" x2="331.96" y2="236.75"/>
<line x1="346.73" y1="240.05" x2="346.73" y2="238.05" stroke="#5a5a5a"/>
<line x1="361.50" y1="240.05" x2="361.50" y2="238.05" stroke="#5a5a5a"/>
<line x1="376.26" y1="240.05" x2="376.26" y2="238.05" stroke="#5a5a5a"/>
<line x1="391.03" y1="240.05" x2="391.03" y2="238.05" stroke="#5a5a5a"/>
<line x1="405.80" y1="240.05" x2="405.80" y2="236.75"/>
<line x1="27.60" y1="203.00" x2="30.20" y2="203.00"/>
<line x1="27.60" y1="110.80" x2="30.00" y2="110.80"/>
<line x1="27.60" y1="18.60" x2="30.20" y2="18.60"/>
</g>
<text transform="translate(36.40,257.20) scale(0.935,1)" font-size="16.5" text-anchor="middle" fill="#000">0</text>
<text transform="translate(110.24,257.20) scale(0.935,1)" font-size="16.5" text-anchor="middle" fill="#000">0.1</text>
<text transform="translate(184.08,257.20) scale(0.935,1)" font-size="16.5" text-anchor="middle" fill="#000">0.2</text>
<text transform="translate(257.92,257.20) scale(0.935,1)" font-size="16.5" text-anchor="middle" fill="#000">0.3</text>
<text transform="translate(331.76,257.20) scale(0.935,1)" font-size="16.5" text-anchor="middle" fill="#000">0.4</text>
<text transform="translate(405.60,257.20) scale(0.935,1)" font-size="16.5" text-anchor="middle" fill="#000">0.5</text>
<text transform="translate(0.20,22.30) scale(0.935,1)" font-size="16.5" text-anchor="start" fill="#000">0.5</text>
<text transform="translate(0.20,206.70) scale(0.935,1)" font-size="16.5" text-anchor="start" fill="#000">0.4</text>
<text transform="translate(221.5,274.7) scale(0.935,1)" font-size="16.5" text-anchor="middle" fill="#000">g</text>
<g transform="translate(16.0,140.9) rotate(-90)" fill="#000" font-size="16.5">
<text transform="scale(0.9,1)" x="0" y="0" font-weight="bold">N</text>
</g>
<path d="M4.1 124.4 Q12 133.2 19.9 124.4 Q12 131.2 4.1 124.4Z" fill="#000" stroke="#000" stroke-width="0.25"/>
<path d="M4.1 115.5 Q12 106.7 19.9 115.5 Q12 108.7 4.1 115.5Z" fill="#000" stroke="#000" stroke-width="0.25"/>
<g fill="none" stroke="#000">
<ellipse cx="11.9" cy="119.7" rx="2.1" ry="2.5" stroke-width="1.15" transform="rotate(-12 11.9 119.7)"/>
<ellipse cx="17.2" cy="121.6" rx="1.8" ry="2.7" stroke-width="0.85" transform="rotate(-10 17.2 121.6)"/>
<path d="M9.9 118.3 L9.2 116.9" stroke-width="0.9"/>
</g>
</svg>
</body></html>
